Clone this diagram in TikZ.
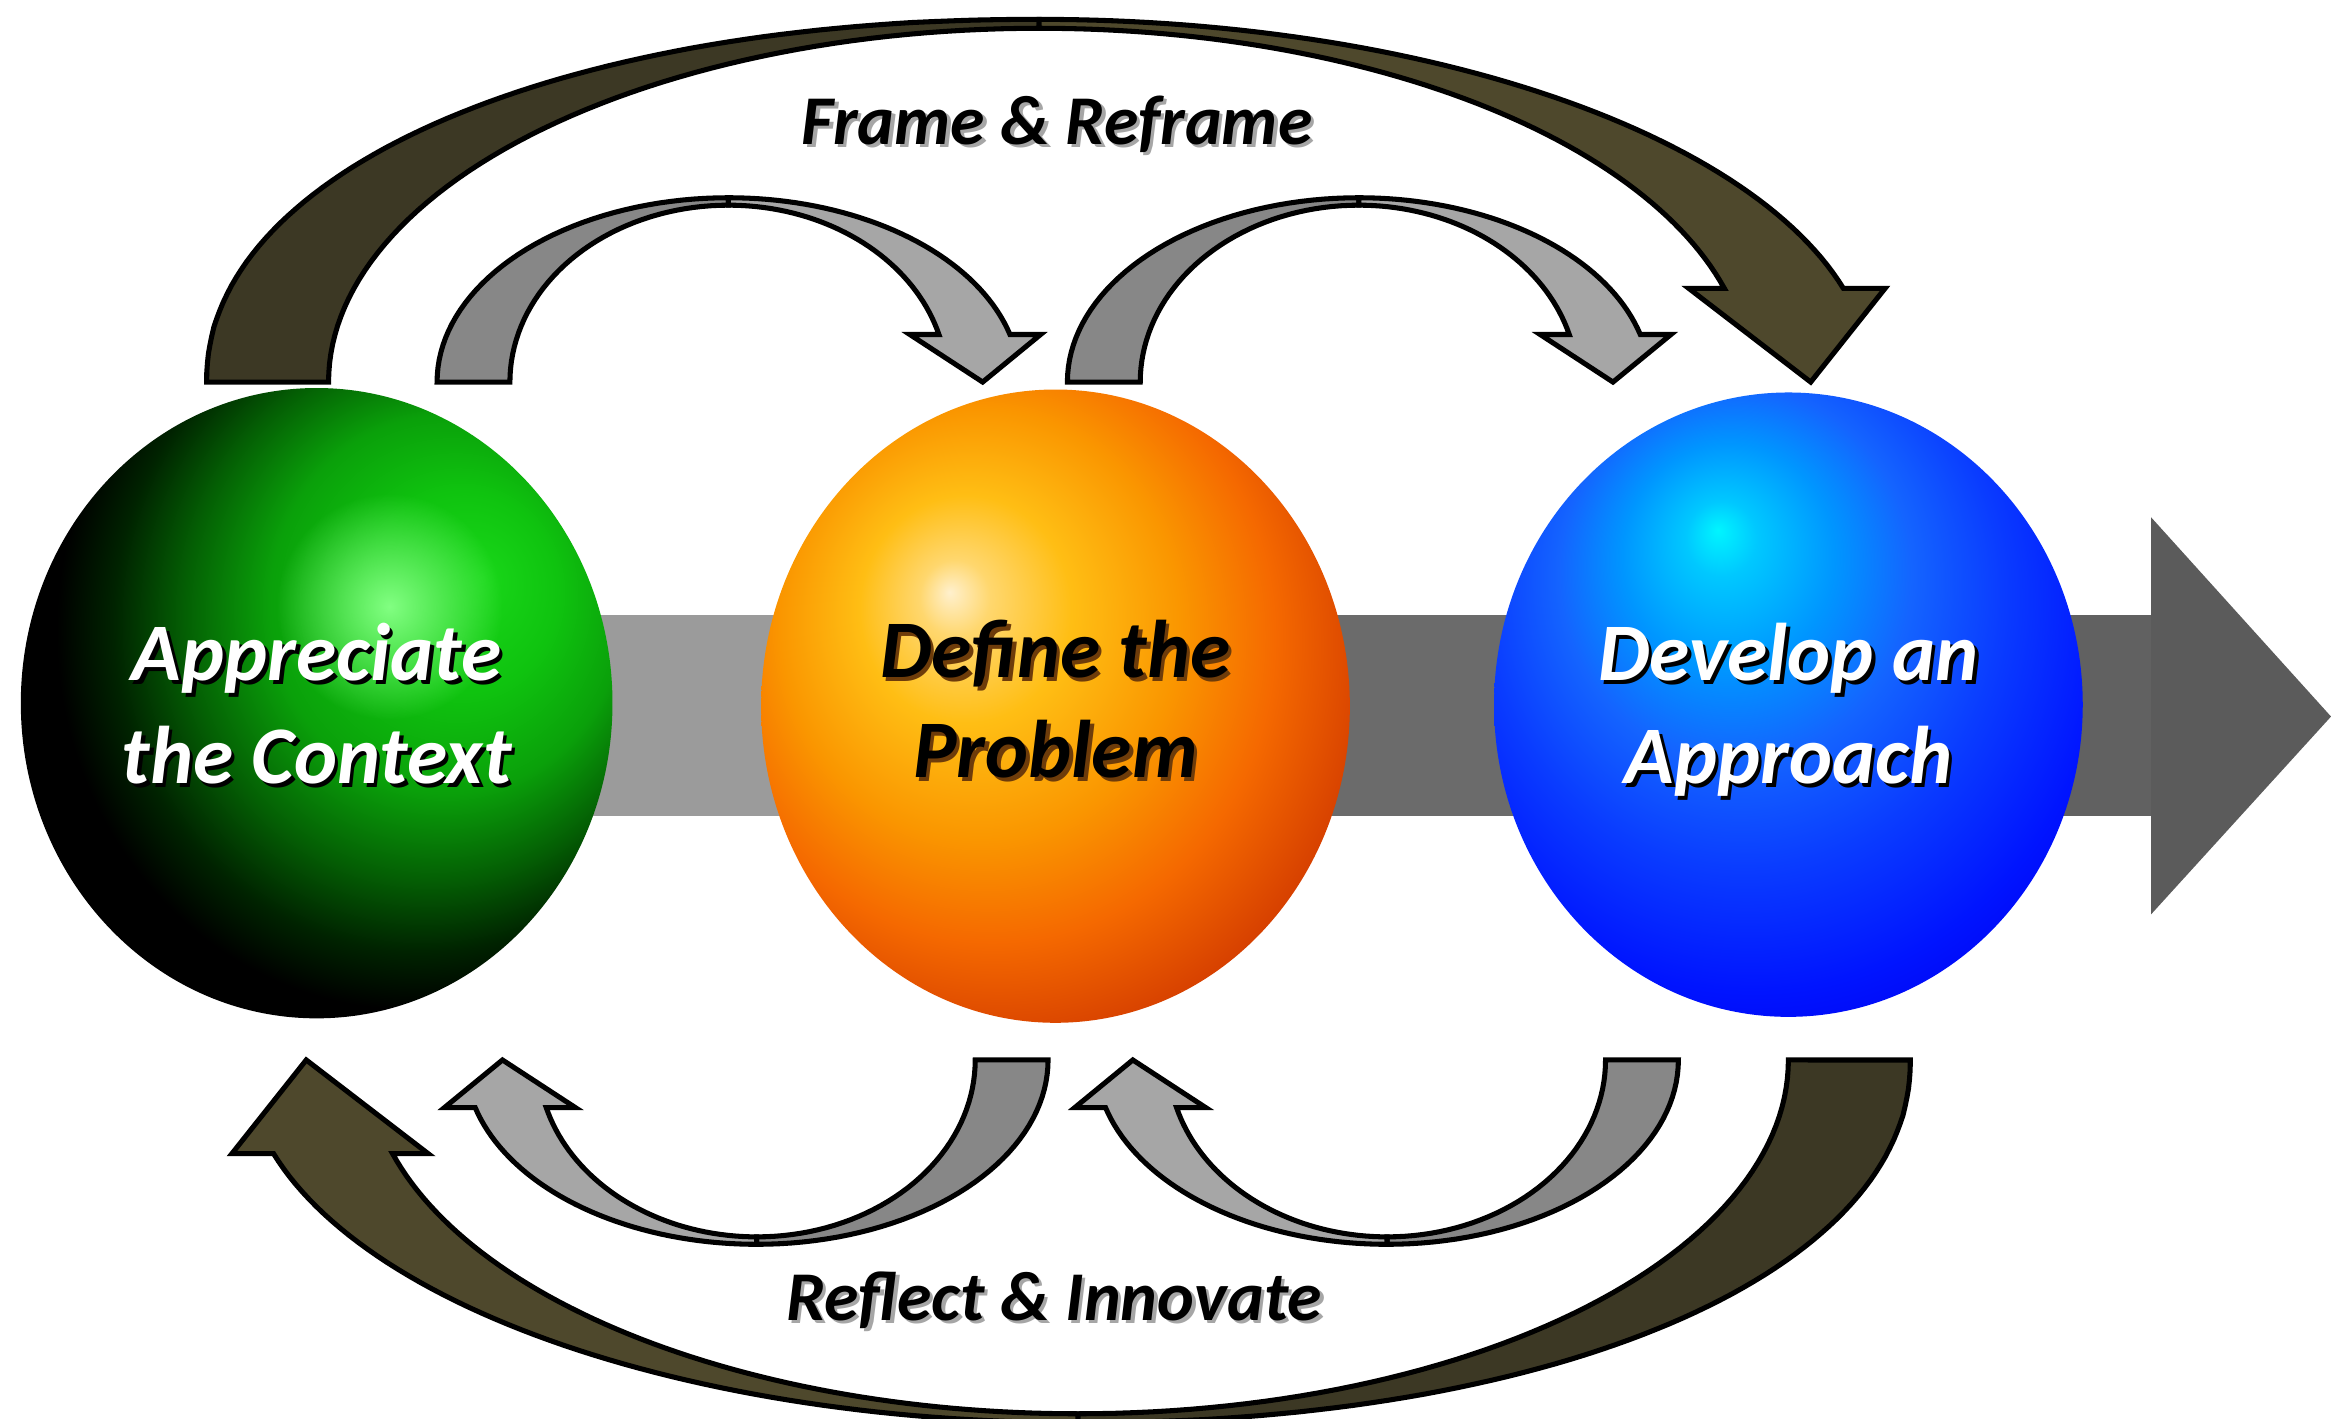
\documentclass[tikz,border=0pt]{standalone}
\usepackage{fontspec}
\newfontfamily\cfont{Carlito}
\usetikzlibrary{shapes.geometric,fadings}

\definecolor{darkback}{RGB}{60,56,36}
\definecolor{darkfront}{RGB}{78,72,44}
\definecolor{grayback}{RGB}{135,135,135}
\definecolor{grayfront}{RGB}{166,166,166}
\definecolor{shaftA}{RGB}{155,155,155}
\definecolor{shaftB}{RGB}{107,107,107}
\definecolor{shaftC}{RGB}{97,97,97}
\definecolor{headC}{RGB}{91,91,91}
\definecolor{defshadow}{RGB}{110,60,10}

% green ball: lit from the upper right, dark towards the lower left
\definecolor{gA}{RGB}{25,215,25}
\definecolor{gB}{RGB}{15,195,15}
\definecolor{gC}{RGB}{10,160,10}
\definecolor{gD}{RGB}{4,95,4}
\definecolor{gE}{RGB}{0,35,0}
\definecolor{gHL}{RGB}{130,255,130}
\pgfdeclareradialshading{greenball}{\pgfpoint{14bp}{10bp}}{color(0bp)=(gA); color(8bp)=(gB); color(15bp)=(gC); color(21bp)=(gD); color(26bp)=(gE); color(30bp)=(black); color(70bp)=(black)}
\tikzfading[name=glowfade, inner color=transparent!0, outer color=transparent!100]
% orange ball
\definecolor{oA}{RGB}{255,240,205}
\definecolor{oB}{RGB}{255,215,110}
\definecolor{oC}{RGB}{255,190,20}
\definecolor{oD}{RGB}{250,150,0}
\definecolor{oE}{RGB}{245,105,0}
\definecolor{oF}{RGB}{215,65,0}
\definecolor{oG}{RGB}{190,55,10}
\definecolor{oH}{RGB}{220,150,130}
\definecolor{oI}{RGB}{238,205,195}
\pgfdeclareradialshading{orangeball}{\pgfpoint{-9bp}{9bp}}{color(0bp)=(oA); color(3bp)=(oB); color(9bp)=(oC); color(17bp)=(oD); color(24bp)=(oE); color(31bp)=(oF); color(35bp)=(oG); color(38bp)=(oH); color(42bp)=(oI); color(60bp)=(oI)}
% blue ball
\definecolor{bA}{RGB}{0,245,255}
\definecolor{bB}{RGB}{0,200,255}
\definecolor{bC}{RGB}{0,150,255}
\definecolor{bD}{RGB}{20,100,255}
\definecolor{bE}{RGB}{10,60,255}
\definecolor{bF}{RGB}{0,20,255}
\definecolor{bG}{RGB}{0,0,240}
\definecolor{bH}{RGB}{0,0,200}
\pgfdeclareradialshading{blueball}{\pgfpoint{-6bp}{14bp}}{color(0bp)=(bA); color(3bp)=(bB); color(9bp)=(bC); color(15bp)=(bD); color(22bp)=(bE); color(30bp)=(bF); color(36bp)=(bG); color(41bp)=(bH); color(60bp)=(bH)}

\newcommand{\GrayArch}{%
 \filldraw[arrowline, fill=grayback] plot[domain=180:270,samples=40] ({196*cos(\x)},{124*sin(\x)}) -- plot[domain=270:180,samples=40] ({147*cos(\x)},{119*sin(\x)}) -- cycle;
 \filldraw[arrowline, fill=grayfront] plot[domain=270:345.04,samples=40] ({196*cos(\x)},{124*sin(\x)}) -- (210,-32) -- (171,0) -- (122,-32) -- plot[domain=344.4:270,samples=40] ({147*cos(\x)},{119*sin(\x)}) -- cycle;}
\newcommand{\DarkArch}{%
 \filldraw[arrowline, fill=darkback] plot[domain=180:270,samples=70] ({-560*pow(abs(cos(\x))+0.00001,0.952)},{-244*pow(abs(sin(\x))+0.00001,0.952)}) -- plot[domain=270:180,samples=60] ({478*cos(\x)},{238*sin(\x)}) -- cycle;
 \filldraw[arrowline, fill=darkfront] plot[domain=270:345.04,samples=60] ({560*cos(\x)},{244*sin(\x)}) -- (569,-63) -- (519,0) -- (437,-63) -- plot[domain=344.65:270,samples=60] ({478*cos(\x)},{238*sin(\x)}) -- cycle;}
% name, position, style, text colour, shadow colour, text
\newcommand{\TxtLine}[6]{%
 \node[#3, text=#5, xshift=1.2pt, yshift=-1.2pt] (#1s) at (#2) {#6};
 \node[#3, text=#4] (#1) at (#2) {#6};}

\begin{document}
\begin{tikzpicture}[x=0.5pt,y=-0.5pt,
  arrowline/.style={draw=black, line width=1.7pt, line join=miter},
  sphere/.style={ellipse, inner sep=0pt, draw=none, shade, minimum width=199pt, minimum height=212pt},
  balltxt/.style={anchor=base, inner sep=0pt, font=\cfont\bfseries\itshape\fontsize{27.5}{33}\selectfont},
  captxt/.style={anchor=base, inner sep=0pt, font=\cfont\bfseries\itshape\fontsize{23.5}{28}\selectfont}]

\fill[white] (0,0) rectangle (1568,954);
\useasboundingbox (0,0) rectangle (1568,954);

% main gray arrow behind the spheres
\fill[shaftA] (213,414) rectangle (710,549);
\fill[shaftB] (710,414) rectangle (1203,549);
\fill[shaftC] (1203,414) rectangle (1448,549);
\fill[headC] (1447,348) -- (1568,482) -- (1447,615) -- cycle;

% spheres
\node[sphere, shading=greenball, minimum width=199pt, minimum height=212pt] (context) at (213,473) {};
\fill[gHL, path fading=glowfade] (262,408) circle[radius=38pt];
\node[sphere, shading=orangeball, minimum width=198pt, minimum height=213pt] (problem) at (710,475) {};
\node[sphere, shading=blueball, minimum width=198pt, minimum height=210pt] (approach) at (1203,474) {};

% sphere texts
\TxtLine{ctxA}{213,458}{balltxt}{white}{black}{Appreciate}
\TxtLine{ctxB}{213,527}{balltxt}{white}{black}{the Context}
\TxtLine{prbA}{710,456}{balltxt}{black}{defshadow}{Define the}
\TxtLine{prbB}{710,523}{balltxt}{black}{defshadow}{Problem}
\TxtLine{appA}{1203,458}{balltxt}{white}{black}{Develop an}
\TxtLine{appB}{1203,527}{balltxt}{white}{black}{Approach}

% captions
\TxtLine{frame}{711,97}{captxt}{black}{black!35}{Frame \& Reframe}
\TxtLine{reflect}{709,888}{captxt}{black}{black!35}{Reflect \& Innovate}

% top arrows
\begin{scope}[shift={(699,257)}]\DarkArch\end{scope}
\begin{scope}[shift={(490,257)}]\GrayArch\end{scope}
\begin{scope}[shift={(914,257)}]\GrayArch\end{scope}
% bottom arrows
\begin{scope}[shift={(725,713)},rotate=180]\DarkArch\end{scope}
\begin{scope}[shift={(509,713)},rotate=180]\GrayArch\end{scope}
\begin{scope}[shift={(933,713)},rotate=180]\GrayArch\end{scope}
\end{tikzpicture}
\end{document}
